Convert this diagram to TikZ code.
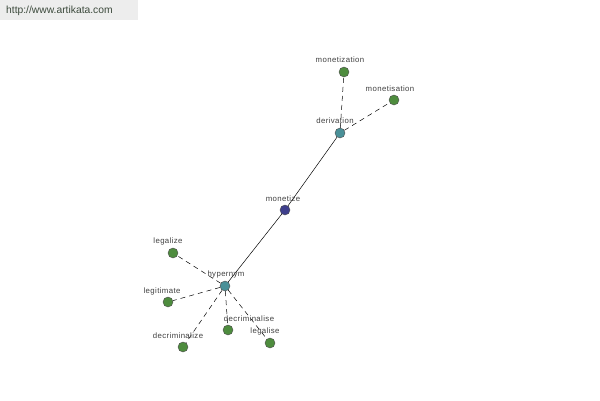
\documentclass[tikz,border=0pt]{standalone}
\usepackage{fontspec}
\setmainfont{Liberation Sans}
\newfontfamily\labfont[LetterSpace=5]{Liberation Sans}
\definecolor{leafg}{HTML}{4E8C3E}
\definecolor{hubt}{HTML}{4A9098}
\definecolor{rootb}{HTML}{3E3F8C}
\definecolor{hdrbg}{HTML}{EDEDED}
\definecolor{hdrtx}{HTML}{3C4A3C}
\definecolor{lbl}{HTML}{404040}
\tikzset{
  vtx/.style={circle,draw=black!70,line width=0.4pt,minimum size=10pt,inner sep=0pt},
  leaf/.style={vtx,fill=leafg},
  hub/.style={vtx,fill=hubt},
  root/.style={vtx,fill=rootb},
  lab/.style={font=\labfont\fontsize{7.8}{9}\selectfont,text=lbl,inner sep=0.5pt},
  dashedge/.style={dash pattern=on 5pt off 4pt,line width=0.5pt},
  solidedge/.style={line width=0.5pt}
}
\begin{document}
\begin{tikzpicture}[x=1pt,y=-1pt]
\useasboundingbox (0,0) rectangle (600,400);
\fill[white] (0,0) rectangle (600,400);
\fill[hdrbg] (0,0) rectangle (138,20);
\node[anchor=west,font=\fontsize{10.3}{12}\selectfont,text=hdrtx,inner sep=0] (hdr) at (6,11) {http://www.artikata.com};
% vertices
\node[leaf] (mtz) at (344,72) {};
\node[leaf] (mts) at (394,100) {};
\node[hub] (der) at (340,133) {};
\node[root] (mon) at (285,210) {};
\node[hub] (hyp) at (225,286) {};
\node[leaf] (lgz) at (173,253) {};
\node[leaf] (lgt) at (168,302) {};
\node[leaf] (dcs) at (228,330) {};
\node[leaf] (dcz) at (183,347) {};
\node[leaf] (lgs) at (270,343) {};
% edges
\draw[solidedge] (der) -- (mon);
\draw[solidedge] (mon) -- (hyp);
\draw[dashedge] (der) -- (mtz);
\draw[dashedge] (der) -- (mts);
\draw[dashedge] (hyp) -- (lgz);
\draw[dashedge] (hyp) -- (lgt);
\draw[dashedge] (hyp) -- (dcs);
\draw[dashedge] (hyp) -- (dcz);
\draw[dashedge] (hyp) -- (lgs);
% labels
\node[lab] (lmtz) at (340,60) {monetization};
\node[lab] (lmts) at (390,89) {monetisation};
\node[lab] (lder) at (335,121) {derivation};
\node[lab] (lmon) at (283,199) {monetize};
\node[lab] (lhyp) at (226,274) {hypernym};
\node[lab] (llgz) at (168,241) {legalize};
\node[lab] (llgt) at (162,291) {legitimate};
\node[lab] (ldcs) at (249,319) {decriminalise};
\node[lab] (ldcz) at (178,336) {decriminalize};
\node[lab] (llgs) at (265,331) {legalise};
\end{tikzpicture}
\end{document}
